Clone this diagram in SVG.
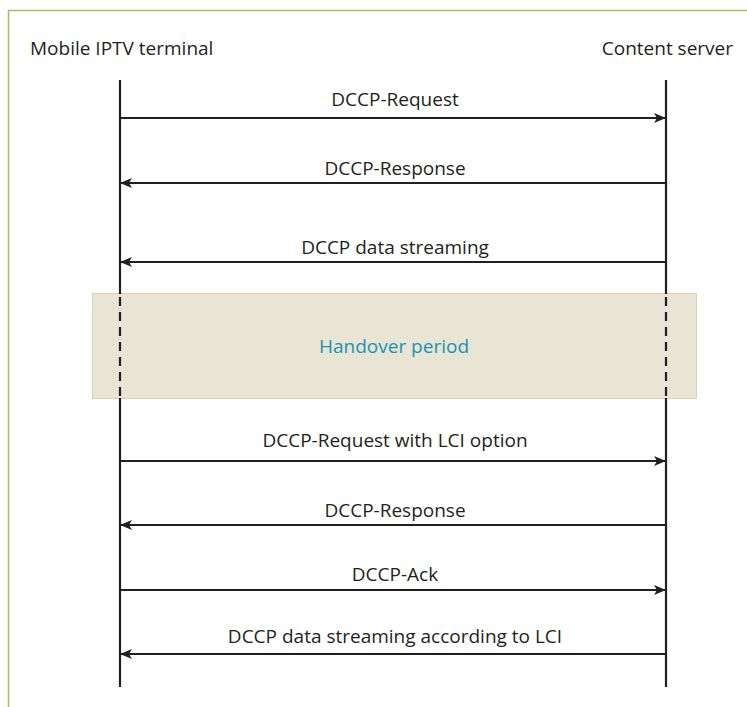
<svg xmlns="http://www.w3.org/2000/svg" width="747" height="707" viewBox="0 0 747 707">
  <style>
    text { font-family: "Open Sans", "Lato", "Liberation Sans", sans-serif; font-size: 19px; fill: #231f20; }
    .msg { text-anchor: middle; }
    .life { stroke: #231f20; stroke-width: 2.2; fill: none; }
    .dash { stroke: #231f20; stroke-width: 2.2; stroke-dasharray: 9 6; fill: none; }
    .arrow { stroke: #231f20; stroke-width: 2; fill: none; marker-end: url(#head); }
  </style>
  <defs>
    <marker id="head" viewBox="0 0 12 10" refX="11" refY="5" markerWidth="12" markerHeight="10" markerUnits="userSpaceOnUse" orient="auto">
      <path d="M0,0 L12,5 L0,10 L3,5 Z" fill="#231f20"/>
    </marker>
  </defs>
  <rect width="747" height="707" fill="#ffffff"/>

  <!-- frame -->
  <path d="M8.5,707 V10.5 H747" fill="none" stroke="#b9b55f" stroke-width="1.5"/>

  <!-- participants -->
  <g id="terminal">
    <text x="30" y="55">Mobile IPTV terminal</text>
  </g>
  <g id="server">
    <text x="733" y="55" text-anchor="end">Content server</text>
  </g>

  <!-- handover period band -->
  <g id="handover">
    <rect x="92.5" y="293.5" width="604" height="105" fill="#e9e5d4" stroke="#d8d2ad" stroke-width="1"/>
    <text x="394" y="353" class="msg" style="fill:#1a93b5">Handover period</text>
  </g>

  <!-- lifelines -->
  <g id="lifelines">
    <path class="life" d="M120,80 V294"/>
    <path class="dash" d="M120,297 V398"/>
    <path class="life" d="M120,398 V687"/>
    <path class="life" d="M666,80 V294"/>
    <path class="dash" d="M666,297 V398"/>
    <path class="life" d="M666,398 V687"/>
  </g>

  <!-- messages -->
  <g id="connectors">
    <path class="arrow" d="M121,118 H665"/>
    <path class="arrow" d="M665,183 H121"/>
    <path class="arrow" d="M665,262 H121"/>
    <path class="arrow" d="M121,461 H665"/>
    <path class="arrow" d="M665,525 H121"/>
    <path class="arrow" d="M121,590 H665"/>
    <path class="arrow" d="M665,654 H121"/>
  </g>

  <g id="labels">
    <text class="msg" x="395" y="106">DCCP-Request</text>
    <text class="msg" x="395" y="175">DCCP-Response</text>
    <text class="msg" x="395" y="254">DCCP data streaming</text>
    <text class="msg" x="395" y="447">DCCP-Request with LCI option</text>
    <text class="msg" x="395" y="517">DCCP-Response</text>
    <text class="msg" x="395" y="581">DCCP-Ack</text>
    <text class="msg" x="395" y="643">DCCP data streaming according to LCI</text>
  </g>
</svg>
